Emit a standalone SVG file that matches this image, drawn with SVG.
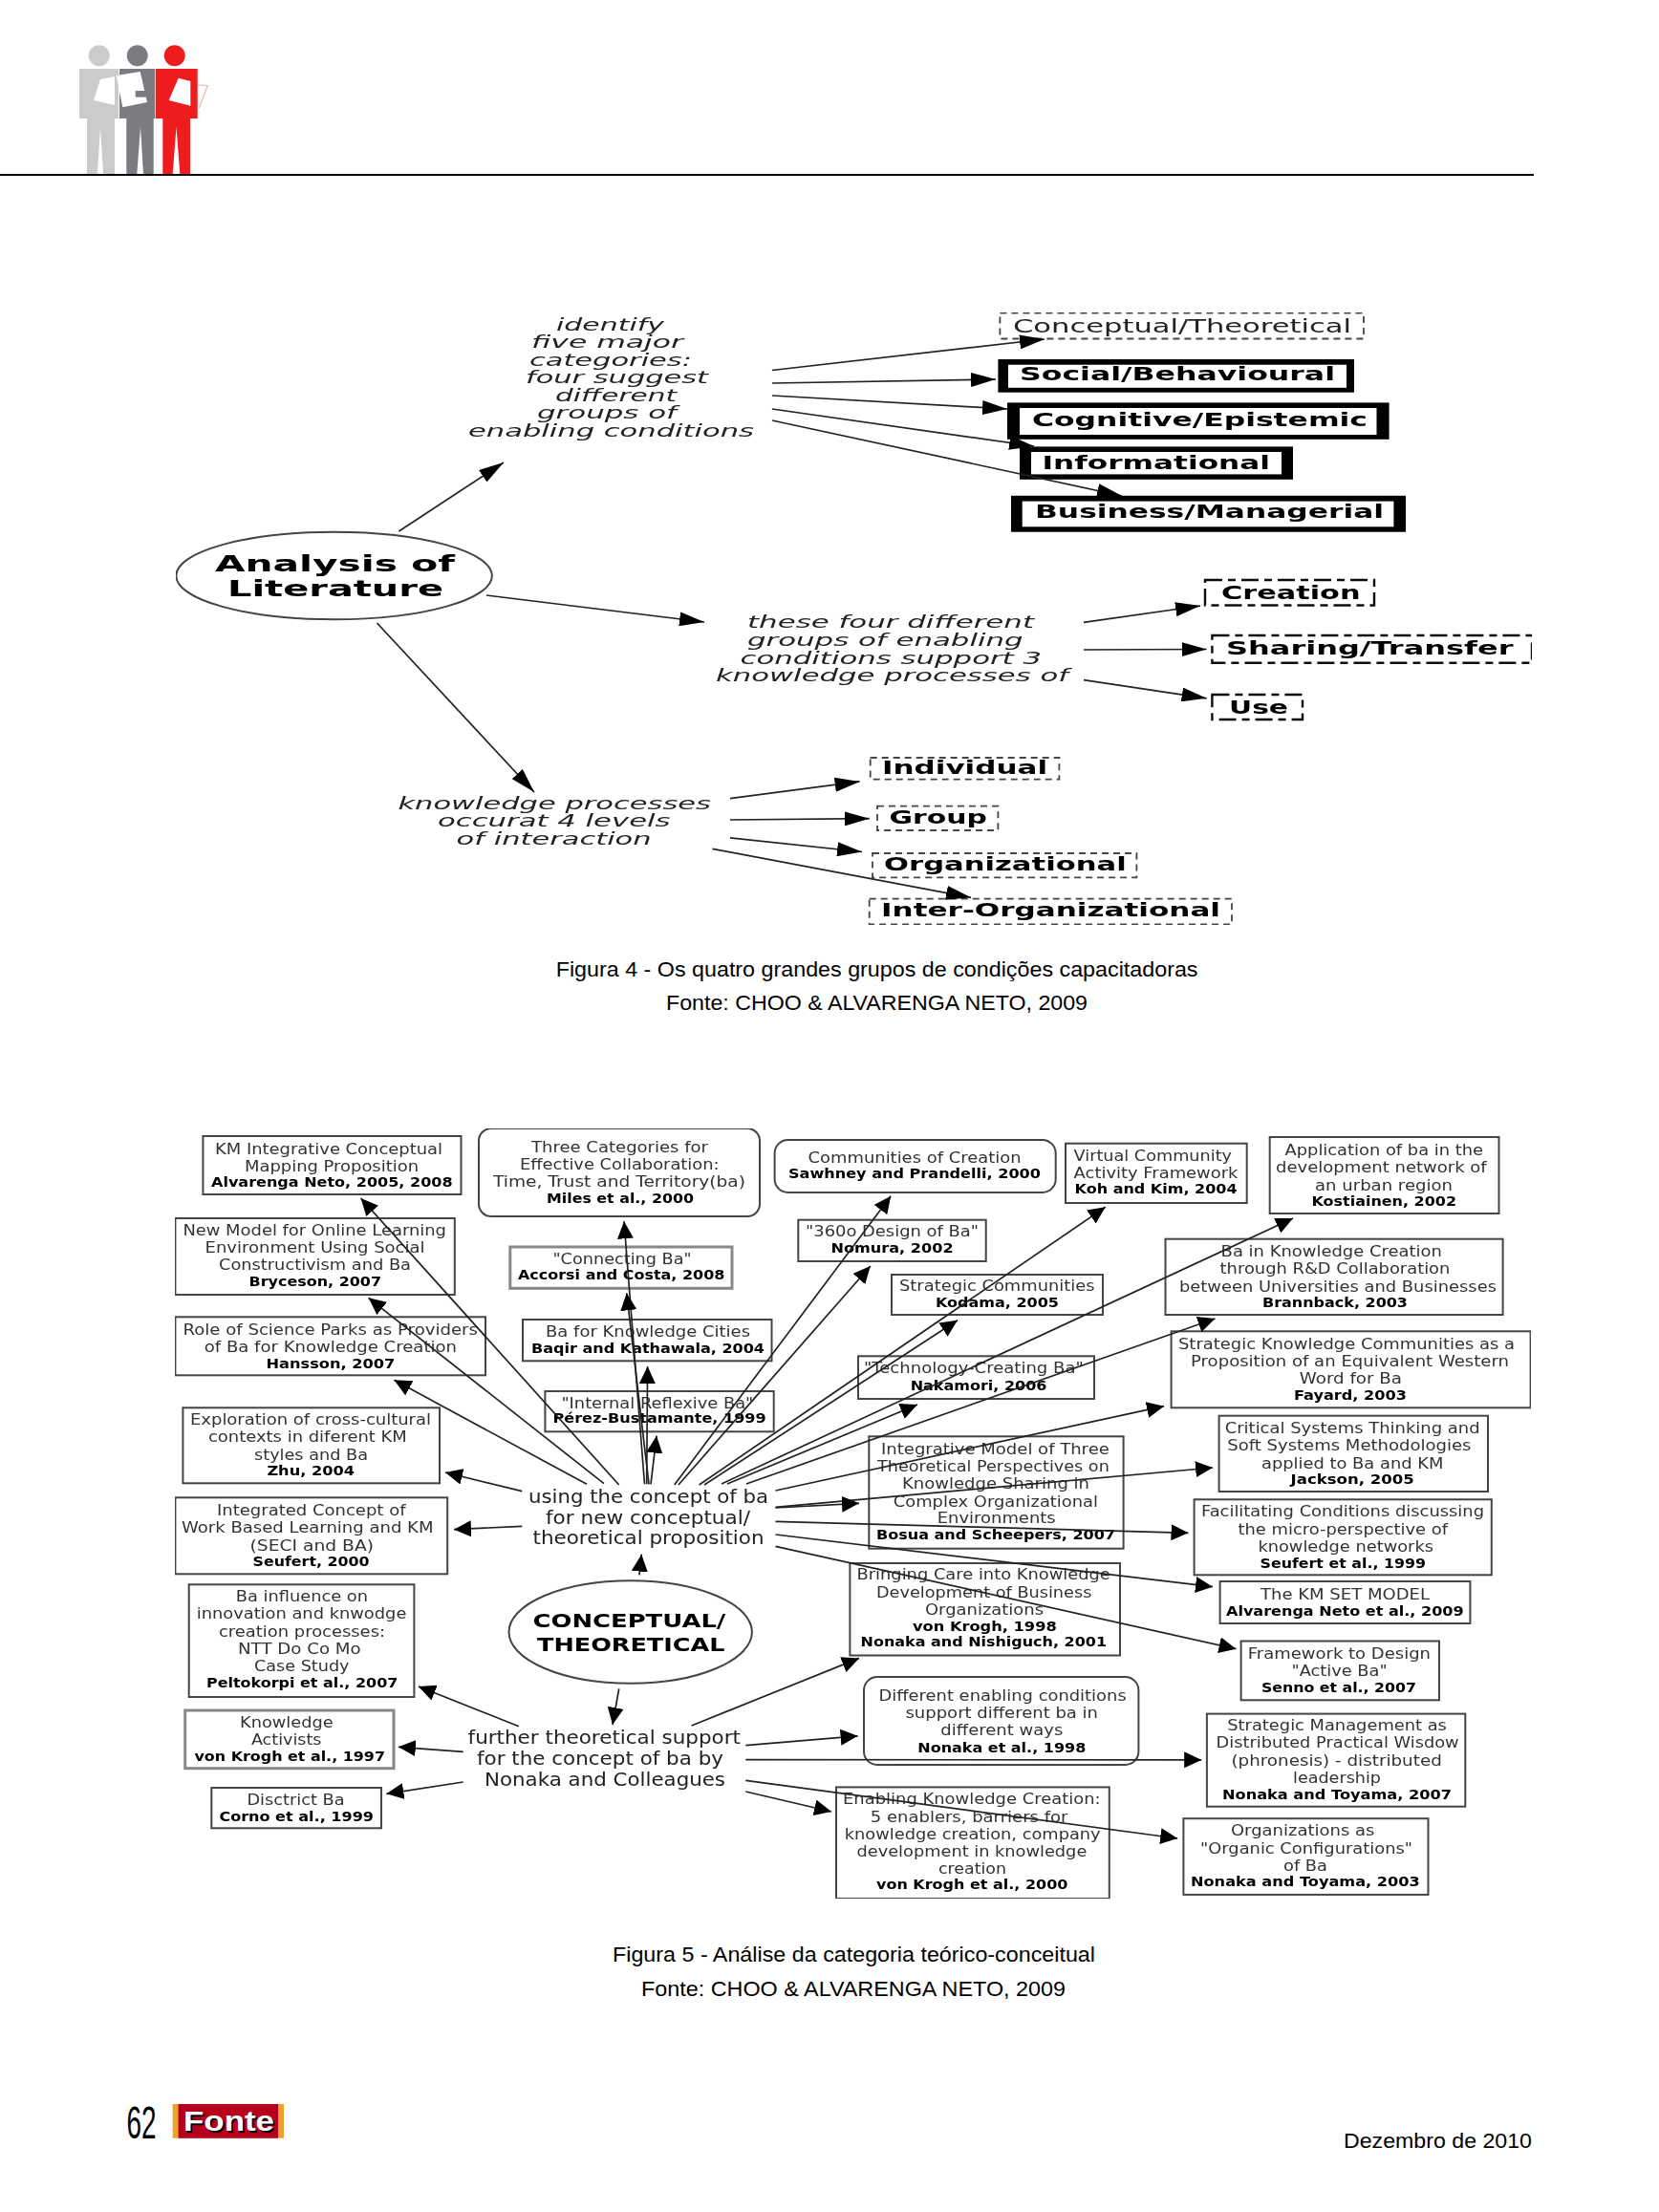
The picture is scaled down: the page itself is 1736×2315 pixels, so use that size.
<svg xmlns="http://www.w3.org/2000/svg" width="1736" height="2315" viewBox="0 0 1736 2315">
<style>
text{font-family:"DejaVu Sans",sans-serif;fill:#333;font-size:16px}
.b{font-weight:bold;fill:#000;font-size:14px}
.cap{font-family:"Liberation Sans",Arial,sans-serif;font-size:22px;fill:#000}
.it{font-style:italic;font-size:18.5px;fill:#222}
.t1{font-weight:bold;font-size:19.5px;fill:#000}
.hub{font-size:19.5px;fill:#222}
.box{fill:#fff;stroke:#444;stroke-width:2}
.lbox{fill:#fff;stroke:#888;stroke-width:3}
.ell{fill:#fff;stroke:#444;stroke-width:2}
.d1{fill:#fff;stroke:#444;stroke-width:1.8;stroke-dasharray:7 5}
.d2{fill:#fff;stroke:#111;stroke-width:2.4;stroke-dasharray:18 6 8 6}
.c4 line{stroke:#222;stroke-width:1.7;marker-end:url(#a4)}
.c5 line{stroke:#222;stroke-width:1.7;marker-end:url(#a5)}
</style>
<defs>
<marker id="a4" markerUnits="userSpaceOnUse" markerWidth="26" markerHeight="15" refX="26" refY="7.5" orient="auto"><path d="M0 0L26 7.5L0 15Z" fill="#000"/></marker>
<marker id="a5" markerUnits="userSpaceOnUse" markerWidth="18" markerHeight="17" refX="18" refY="8.5" orient="auto"><path d="M0 0L18 8.5L0 17Z" fill="#000"/></marker>
<filter id="soft" x="0" y="0" width="100%" height="100%"><feGaussianBlur stdDeviation="0.7"/></filter>
</defs>
<rect width="1736" height="2315" fill="#fff"/>
<g id="header">
<g fill="#cbcbcb"><circle cx="103.7" cy="58.3" r="11"/><path d="M83 72H124V124H120V182H108L105 133L102 182H91V124H83Z"/></g>
<polygon points="98,105 105,83 120,80 120,110" fill="#fff"/>
<g fill="#7a7c80"><circle cx="143.7" cy="58.3" r="11"/><path d="M125 72H162V124H160.7V182H150L147 133L143.3 182H132.3V124H125Z"/></g>
<polygon points="121.7,79 146.7,75 154,107 128.3,112.3" fill="#fff"/>
<rect x="141.7" y="95" width="18.3" height="6.7" fill="#7a7c80"/>
<g fill="#ee1c1c"><circle cx="182.7" cy="58.3" r="11"/><path d="M162.7 72H206.7V124H199V182H188.3L184.5 133L180.7 182H170.3V124H162.7Z"/></g>
<polygon points="176.7,105 186.7,81.7 199.3,85 199.3,110.7" fill="#fff"/>
<polyline points="206.7,89 217.3,89.5 208.3,113" fill="none" stroke="#f2b5a5" stroke-width="1.2"/>
<line x1="0" y1="183" x2="1605" y2="183" stroke="#000" stroke-width="2"/>
</g>
<g id="figure4" filter="url(#soft)">
<g id="n-analysis"><ellipse class="ell" cx="349.6" cy="602.5" rx="165.3" ry="45.8"/>
<text class="t1" style="font-size:23px" x="225" y="598" textLength="251" lengthAdjust="spacingAndGlyphs">Analysis of</text>
<text class="t1" style="font-size:23px" x="238" y="623.6" textLength="226" lengthAdjust="spacingAndGlyphs">Literature</text></g>
<g id="n-identify">
<text class="it" x="582" y="345.5" textLength="113" lengthAdjust="spacingAndGlyphs">identify</text>
<text class="it" x="556" y="363.8" textLength="159" lengthAdjust="spacingAndGlyphs">five major</text>
<text class="it" x="554" y="382.6" textLength="170" lengthAdjust="spacingAndGlyphs">categories:</text>
<text class="it" x="550" y="400.9" textLength="191" lengthAdjust="spacingAndGlyphs">four suggest</text>
<text class="it" x="581" y="419.6" textLength="127" lengthAdjust="spacingAndGlyphs">different</text>
<text class="it" x="562" y="438.4" textLength="146" lengthAdjust="spacingAndGlyphs">groups of</text>
<text class="it" x="490" y="457" textLength="299" lengthAdjust="spacingAndGlyphs">enabling conditions</text></g>
<g id="n-conceptual4"><rect class="d1" x="1046.4" y="327.7" width="380.6" height="26.8"/><text x="1060" y="347.8" style="font-size:20px;fill:#222" textLength="354" lengthAdjust="spacingAndGlyphs">Conceptual/Theoretical</text></g>
<g id="n-social"><rect x="1044.4" y="376" width="372.6" height="34.7" fill="#000"/><rect x="1055" y="381.7" width="354" height="24.1" fill="#fff"/><text class="t1" x="1067" y="398" textLength="330" lengthAdjust="spacingAndGlyphs">Social/Behavioural</text></g>
<g id="n-cognitive"><rect x="1054" y="421.4" width="399.6" height="38.4" fill="#000"/><rect x="1067" y="427" width="373.5" height="28" fill="#fff"/><text class="t1" x="1080" y="446" textLength="351" lengthAdjust="spacingAndGlyphs">Cognitive/Epistemic</text></g>
<g id="n-informational"><rect x="1067" y="467.4" width="286" height="34.4" fill="#000"/><rect x="1079" y="473" width="262" height="23.4" fill="#fff"/><text class="t1" x="1090.5" y="490.6" textLength="238.5" lengthAdjust="spacingAndGlyphs">Informational</text></g>
<g id="n-business"><rect x="1058" y="518.8" width="413" height="37.9" fill="#000"/><rect x="1069.7" y="524.6" width="388.7" height="26.7" fill="#fff"/><text class="t1" x="1083" y="542" textLength="365" lengthAdjust="spacingAndGlyphs">Business/Managerial</text></g>
<g id="n-support">
<text class="it" x="782" y="657" textLength="300" lengthAdjust="spacingAndGlyphs">these four different</text>
<text class="it" x="782" y="676" textLength="288.6" lengthAdjust="spacingAndGlyphs">groups of enabling</text>
<text class="it" x="774.6" y="694.6" textLength="315.4" lengthAdjust="spacingAndGlyphs">conditions support 3</text>
<text class="it" x="749" y="713" textLength="369" lengthAdjust="spacingAndGlyphs">knowledge processes of</text></g>
<g id="n-creation"><rect class="d2" x="1261" y="607" width="177" height="26.5"/><text class="t1" x="1278" y="627" textLength="145.5" lengthAdjust="spacingAndGlyphs">Creation</text></g>
<g id="n-sharing"><rect class="d2" x="1268.4" y="665" width="334.6" height="28.8"/><text class="t1" x="1283" y="684.8" textLength="300.5" lengthAdjust="spacingAndGlyphs">Sharing/Transfer</text></g>
<g id="n-use"><rect class="d2" x="1268.4" y="727" width="94.6" height="26"/><text class="t1" x="1286" y="747.3" textLength="62" lengthAdjust="spacingAndGlyphs">Use</text></g>
<g id="n-levels">
<text class="it" x="416.4" y="847" textLength="327.6" lengthAdjust="spacingAndGlyphs">knowledge processes</text>
<text class="it" x="458" y="865" textLength="243.6" lengthAdjust="spacingAndGlyphs">occurat 4 levels</text>
<text class="it" x="477.6" y="884" textLength="204" lengthAdjust="spacingAndGlyphs">of interaction</text></g>
<g id="n-individual"><rect class="d1" x="910.7" y="793" width="197.7" height="22.6"/><text class="t1" x="923" y="810" textLength="173" lengthAdjust="spacingAndGlyphs">Individual</text></g>
<g id="n-group"><rect class="d1" x="918" y="843.7" width="126.4" height="25.3"/><text class="t1" x="930.5" y="861.6" textLength="102.5" lengthAdjust="spacingAndGlyphs">Group</text></g>
<g id="n-organizational"><rect class="d1" x="913" y="893" width="276.4" height="25.3"/><text class="t1" x="925" y="910.7" textLength="253.7" lengthAdjust="spacingAndGlyphs">Organizational</text></g>
<g id="n-inter"><rect class="d1" x="909.7" y="940.6" width="379.3" height="26.8"/><text class="t1" x="922" y="959.4" textLength="355" lengthAdjust="spacingAndGlyphs">Inter-Organizational</text></g>
<g id="connectors4" class="c4">
<line x1="417.4" y1="556" x2="527" y2="484"/>
<line x1="509" y1="623" x2="737" y2="651"/>
<line x1="394.5" y1="652" x2="559" y2="829"/>
<line x1="808" y1="387.5" x2="1093" y2="355"/>
<line x1="808" y1="401" x2="1042" y2="397"/>
<line x1="808" y1="414" x2="1054" y2="428"/>
<line x1="808" y1="428" x2="1082" y2="467"/>
<line x1="808" y1="440" x2="1174" y2="519"/>
<line x1="1134" y1="651.3" x2="1256" y2="634"/>
<line x1="1134" y1="680" x2="1262.6" y2="679.5"/>
<line x1="1134" y1="711.6" x2="1262.6" y2="730.8"/>
<line x1="764" y1="835.7" x2="899.6" y2="817.9"/>
<line x1="764" y1="858" x2="909.8" y2="856.7"/>
<line x1="764" y1="876.8" x2="902" y2="891.5"/>
<line x1="745.5" y1="888.4" x2="1016" y2="939.3"/>
</g>
</g>
<g id="captions">
<text class="cap" x="581.7" y="1021.7" textLength="671.8" lengthAdjust="spacingAndGlyphs">Figura 4 - Os quatro grandes grupos de condições capacitadoras</text>
<text class="cap" x="697" y="1057" textLength="441" lengthAdjust="spacingAndGlyphs">Fonte: CHOO &amp; ALVARENGA NETO, 2009</text>
<text class="cap" x="641" y="2052.7" textLength="505" lengthAdjust="spacingAndGlyphs">Figura 5 - Análise da categoria teórico-conceitual</text>
<text class="cap" x="671" y="2089" textLength="444" lengthAdjust="spacingAndGlyphs">Fonte: CHOO &amp; ALVARENGA NETO, 2009</text>
</g>
<g id="figure5" filter="url(#soft)">
<g id="n-km"><rect class="box" x="212.4" y="1189" width="270.1" height="61"/><text x="225" y="1207.7" textLength="238" lengthAdjust="spacingAndGlyphs">KM Integrative Conceptual</text><text x="256" y="1225.7" textLength="182" lengthAdjust="spacingAndGlyphs">Mapping Proposition</text><text class="b" x="221" y="1242" textLength="252.6" lengthAdjust="spacingAndGlyphs">Alvarenga Neto, 2005, 2008</text></g>
<g id="n-three"><rect class="box" x="501" y="1181" width="294" height="92" rx="13"/><text x="556" y="1206" textLength="185" lengthAdjust="spacingAndGlyphs">Three Categories for</text><text x="544" y="1224" textLength="208.6" lengthAdjust="spacingAndGlyphs">Effective Collaboration:</text><text x="516" y="1242.3" textLength="264" lengthAdjust="spacingAndGlyphs">Time, Trust and Territory(ba)</text><text class="b" x="572" y="1259" textLength="154" lengthAdjust="spacingAndGlyphs">Miles et al., 2000</text></g>
<g id="n-communities"><rect class="box" x="810.6" y="1193" width="294.1" height="55" rx="14"/><text x="845.5" y="1216.7" textLength="223" lengthAdjust="spacingAndGlyphs">Communities of Creation</text><text class="b" x="825" y="1233" textLength="264" lengthAdjust="spacingAndGlyphs">Sawhney and Prandelli, 2000</text></g>
<g id="n-virtual"><rect class="box" x="1115" y="1196.7" width="189.7" height="62.3"/><text x="1123.6" y="1215" textLength="165.4" lengthAdjust="spacingAndGlyphs">Virtual Community</text><text x="1123.6" y="1233" textLength="171.9" lengthAdjust="spacingAndGlyphs">Activity Framework</text><text class="b" x="1124.6" y="1249.3" textLength="170" lengthAdjust="spacingAndGlyphs">Koh and Kim, 2004</text></g>
<g id="n-application"><rect class="box" x="1328.7" y="1190" width="239.8" height="80"/><text x="1344.5" y="1209" textLength="207.5" lengthAdjust="spacingAndGlyphs">Application of ba in the</text><text x="1335" y="1227.3" textLength="220.7" lengthAdjust="spacingAndGlyphs">development network of</text><text x="1376" y="1245.7" textLength="144" lengthAdjust="spacingAndGlyphs">an urban region</text><text class="b" x="1372.5" y="1262.3" textLength="151.5" lengthAdjust="spacingAndGlyphs">Kostiainen, 2002</text></g>
<g id="n-newmodel"><rect class="box" x="183.4" y="1275" width="292.4" height="80"/><text x="191.4" y="1292.7" textLength="275.6" lengthAdjust="spacingAndGlyphs">New Model for Online Learning</text><text x="214.6" y="1311" textLength="229.9" lengthAdjust="spacingAndGlyphs">Environment Using Social</text><text x="229" y="1329.3" textLength="201" lengthAdjust="spacingAndGlyphs">Constructivism and Ba</text><text class="b" x="260.6" y="1346.3" textLength="138.4" lengthAdjust="spacingAndGlyphs">Bryceson, 2007</text></g>
<g id="n-connecting"><rect class="lbox" x="533.8" y="1305" width="232.2" height="43.3"/><text x="578.5" y="1322.7" textLength="145.1" lengthAdjust="spacingAndGlyphs">"Connecting Ba"</text><text class="b" x="542" y="1339.3" textLength="216.4" lengthAdjust="spacingAndGlyphs">Accorsi and Costa, 2008</text></g>
<g id="n-360"><rect class="box" x="835.3" y="1276.7" width="196.4" height="43.3"/><text x="843" y="1294.3" textLength="181" lengthAdjust="spacingAndGlyphs">"360o Design of Ba"</text><text class="b" x="869.5" y="1311" textLength="128.1" lengthAdjust="spacingAndGlyphs">Nomura, 2002</text></g>
<g id="n-strategic"><rect class="box" x="933" y="1334" width="221" height="42"/><text x="941" y="1351" textLength="204.5" lengthAdjust="spacingAndGlyphs">Strategic Communities</text><text class="b" x="979" y="1368.3" textLength="129" lengthAdjust="spacingAndGlyphs">Kodama, 2005</text></g>
<g id="n-rd"><rect class="box" x="1219.5" y="1296.7" width="353.1" height="79.3"/><text x="1277.6" y="1315" textLength="231.2" lengthAdjust="spacingAndGlyphs">Ba in Knowledge Creation</text><text x="1276.6" y="1333.3" textLength="240.8" lengthAdjust="spacingAndGlyphs">through R&amp;D Collaboration</text><text x="1234" y="1351.7" textLength="332" lengthAdjust="spacingAndGlyphs">between Universities and Businesses</text><text class="b" x="1321" y="1368.3" textLength="152" lengthAdjust="spacingAndGlyphs">Brannback, 2003</text></g>
<g id="n-role"><rect class="box" x="183.4" y="1378.3" width="324.6" height="61"/><text x="191.4" y="1396.7" textLength="308.6" lengthAdjust="spacingAndGlyphs">Role of Science Parks as Providers</text><text x="213.8" y="1415" textLength="264.2" lengthAdjust="spacingAndGlyphs">of Ba for Knowledge Creation</text><text class="b" x="278.5" y="1431.7" textLength="134.8" lengthAdjust="spacingAndGlyphs">Hansson, 2007</text></g>
<g id="n-cities"><rect class="box" x="547" y="1381" width="260.5" height="43.3"/><text x="571" y="1399.3" textLength="214" lengthAdjust="spacingAndGlyphs">Ba for Knowledge Cities</text><text class="b" x="556" y="1416" textLength="244" lengthAdjust="spacingAndGlyphs">Baqir and Kathawala, 2004</text></g>
<g id="n-technology"><rect class="box" x="898" y="1419.3" width="247" height="44.7"/><text x="904" y="1437.3" textLength="229.8" lengthAdjust="spacingAndGlyphs">"Technology-Creating Ba"</text><text class="b" x="952.7" y="1455" textLength="142.8" lengthAdjust="spacingAndGlyphs">Nakamori, 2006</text></g>
<g id="n-western"><rect class="box" x="1225.6" y="1393.3" width="376" height="80"/><text x="1233" y="1411.7" textLength="352" lengthAdjust="spacingAndGlyphs">Strategic Knowledge Communities as a</text><text x="1246" y="1430" textLength="333" lengthAdjust="spacingAndGlyphs">Proposition of an Equivalent Western</text><text x="1359.8" y="1448.3" textLength="107.2" lengthAdjust="spacingAndGlyphs">Word for Ba</text><text class="b" x="1354" y="1465" textLength="118" lengthAdjust="spacingAndGlyphs">Fayard, 2003</text></g>
<g id="n-internal"><rect class="box" x="570.4" y="1456" width="239.3" height="42.3"/><text x="587.4" y="1474" textLength="200.9" lengthAdjust="spacingAndGlyphs">"Internal Reflexive Ba"</text><text class="b" x="578.5" y="1489.3" textLength="223.2" lengthAdjust="spacingAndGlyphs">Pérez-Bustamante, 1999</text></g>
<g id="n-exploration"><rect class="box" x="191.4" y="1473.3" width="268.6" height="79"/><text x="199" y="1491" textLength="252" lengthAdjust="spacingAndGlyphs">Exploration of cross-cultural</text><text x="218" y="1509.3" textLength="207.8" lengthAdjust="spacingAndGlyphs">contexts in diferent KM</text><text x="266" y="1527.7" textLength="119" lengthAdjust="spacingAndGlyphs">styles and Ba</text><text class="b" x="279.4" y="1544.3" textLength="91.6" lengthAdjust="spacingAndGlyphs">Zhu, 2004</text></g>
<g id="n-integrative"><rect class="box" x="909.3" y="1503.3" width="266.3" height="117.4"/><text x="922" y="1521.7" textLength="238.8" lengthAdjust="spacingAndGlyphs">Integrative Model of Three</text><text x="918" y="1540" textLength="242.8" lengthAdjust="spacingAndGlyphs">Theoretical Perspectives on</text><text x="944" y="1558.3" textLength="196" lengthAdjust="spacingAndGlyphs">Knowledge Sharing in</text><text x="934.8" y="1576.7" textLength="214.2" lengthAdjust="spacingAndGlyphs">Complex Organizational</text><text x="980.7" y="1594.3" textLength="124" lengthAdjust="spacingAndGlyphs">Environments</text><text class="b" x="917" y="1610.7" textLength="250" lengthAdjust="spacingAndGlyphs">Bosua and Scheepers, 2007</text></g>
<g id="n-critical"><rect class="box" x="1275.6" y="1481.7" width="281.4" height="79.3"/><text x="1281.7" y="1500" textLength="266.9" lengthAdjust="spacingAndGlyphs">Critical Systems Thinking and</text><text x="1284.3" y="1518.3" textLength="255.1" lengthAdjust="spacingAndGlyphs">Soft Systems Methodologies</text><text x="1320" y="1536.7" textLength="190.3" lengthAdjust="spacingAndGlyphs">applied to Ba and KM</text><text class="b" x="1350.6" y="1553.3" textLength="129.1" lengthAdjust="spacingAndGlyphs">Jackson, 2005</text></g>
<g id="n-integrated"><rect class="box" x="183.4" y="1567.3" width="284.8" height="80"/><text x="227" y="1585.7" textLength="197.5" lengthAdjust="spacingAndGlyphs">Integrated Concept of</text><text x="190" y="1604" textLength="263.5" lengthAdjust="spacingAndGlyphs">Work Based Learning and KM</text><text x="261.5" y="1622.7" textLength="129.5" lengthAdjust="spacingAndGlyphs">(SECI and BA)</text><text class="b" x="264.6" y="1639.3" textLength="121.9" lengthAdjust="spacingAndGlyphs">Seufert, 2000</text></g>
<g id="n-using"><text class="hub" x="553" y="1572.7" textLength="251" lengthAdjust="spacingAndGlyphs">using the concept of ba</text><text class="hub" x="571" y="1595" textLength="214" lengthAdjust="spacingAndGlyphs">for new conceptual/</text><text class="hub" x="557.5" y="1616" textLength="242" lengthAdjust="spacingAndGlyphs">theoretical proposition</text></g>
<g id="n-facilitating"><rect class="box" x="1249.6" y="1569.3" width="311.2" height="79"/><text x="1257" y="1587.3" textLength="296" lengthAdjust="spacingAndGlyphs">Facilitating Conditions discussing</text><text x="1295.5" y="1605.7" textLength="219.5" lengthAdjust="spacingAndGlyphs">the micro-perspective of</text><text x="1316.4" y="1624" textLength="183.6" lengthAdjust="spacingAndGlyphs">knowledge networks</text><text class="b" x="1318.5" y="1640.7" textLength="173.5" lengthAdjust="spacingAndGlyphs">Seufert et al., 1999</text></g>
<g id="n-bringing"><rect class="box" x="889.4" y="1636" width="282.6" height="96.5"/><text x="896.5" y="1653.2" textLength="265.3" lengthAdjust="spacingAndGlyphs">Bringing Care into Knowledge</text><text x="917" y="1671.8" textLength="225.4" lengthAdjust="spacingAndGlyphs">Development of Business</text><text x="968" y="1690" textLength="124" lengthAdjust="spacingAndGlyphs">Organizations</text><text class="b" x="955" y="1706.8" textLength="150.7" lengthAdjust="spacingAndGlyphs">von Krogh, 1998</text><text class="b" x="900.6" y="1722.9" textLength="257.4" lengthAdjust="spacingAndGlyphs">Nonaka and Nishiguch, 2001</text></g>
<g id="n-set"><rect class="box" x="1276.6" y="1655" width="261.8" height="44"/><text x="1319" y="1674" textLength="177" lengthAdjust="spacingAndGlyphs">The KM SET MODEL</text><text class="b" x="1283" y="1691.4" textLength="248.7" lengthAdjust="spacingAndGlyphs">Alvarenga Neto et al., 2009</text></g>
<g id="n-framework"><rect class="box" x="1298.6" y="1717.5" width="207.4" height="61.8"/><text x="1305.7" y="1736.4" textLength="191.3" lengthAdjust="spacingAndGlyphs">Framework to Design</text><text x="1351.6" y="1754.3" textLength="100" lengthAdjust="spacingAndGlyphs">"Active Ba"</text><text class="b" x="1320" y="1771" textLength="162" lengthAdjust="spacingAndGlyphs">Senno et al., 2007</text></g>
<g id="n-different"><rect class="box" x="904" y="1755" width="287.4" height="92" rx="14"/><text x="919.5" y="1780" textLength="259.2" lengthAdjust="spacingAndGlyphs">Different enabling conditions</text><text x="947.5" y="1797.9" textLength="201.5" lengthAdjust="spacingAndGlyphs">support different ba in</text><text x="984.3" y="1816.4" textLength="128" lengthAdjust="spacingAndGlyphs">different ways</text><text class="b" x="960.3" y="1833.6" textLength="176" lengthAdjust="spacingAndGlyphs">Nonaka et al., 1998</text></g>
<g id="n-management"><rect class="box" x="1262.9" y="1793.6" width="270.4" height="97.1"/><text x="1284.3" y="1811.4" textLength="229.6" lengthAdjust="spacingAndGlyphs">Strategic Management as</text><text x="1272.6" y="1829.3" textLength="254" lengthAdjust="spacingAndGlyphs">Distributed Practical Wisdow</text><text x="1288.4" y="1847.9" textLength="220.4" lengthAdjust="spacingAndGlyphs">(phronesis) - distributed</text><text x="1353" y="1865.7" textLength="92" lengthAdjust="spacingAndGlyphs">leadership</text><text class="b" x="1279" y="1882.5" textLength="240" lengthAdjust="spacingAndGlyphs">Nonaka and Toyama, 2007</text></g>
<g id="n-enabling"><rect class="box" x="875" y="1870.4" width="285.8" height="116.6"/><text x="882" y="1888.2" textLength="269.6" lengthAdjust="spacingAndGlyphs">Enabling Knowledge Creation:</text><text x="910.8" y="1906.8" textLength="206.6" lengthAdjust="spacingAndGlyphs">5 enablers, barriers for</text><text x="883.8" y="1924.6" textLength="267.8" lengthAdjust="spacingAndGlyphs">knowledge creation, company</text><text x="896.5" y="1943.2" textLength="240.8" lengthAdjust="spacingAndGlyphs">development in knowledge</text><text x="982" y="1961.4" textLength="71" lengthAdjust="spacingAndGlyphs">creation</text><text class="b" x="917" y="1977" textLength="200.4" lengthAdjust="spacingAndGlyphs">von Krogh et al., 2000</text></g>
<g id="n-organizations"><rect class="box" x="1238.4" y="1903.2" width="256.1" height="79.7"/><text x="1287.9" y="1921" textLength="150.5" lengthAdjust="spacingAndGlyphs">Organizations as</text><text x="1256" y="1939.6" textLength="222" lengthAdjust="spacingAndGlyphs">"Organic Configurations"</text><text x="1343" y="1957.5" textLength="45.9" lengthAdjust="spacingAndGlyphs">of Ba</text><text class="b" x="1246" y="1973.6" textLength="239.8" lengthAdjust="spacingAndGlyphs">Nonaka and Toyama, 2003</text></g>
<g id="n-influence"><rect class="box" x="197.7" y="1658.3" width="235.7" height="117.7"/><text x="246.8" y="1676" textLength="138.2" lengthAdjust="spacingAndGlyphs">Ba influence on</text><text x="205.7" y="1694.3" textLength="219.7" lengthAdjust="spacingAndGlyphs">innovation and knwodge</text><text x="229" y="1712.7" textLength="174" lengthAdjust="spacingAndGlyphs">creation processes:</text><text x="249" y="1731" textLength="128.6" lengthAdjust="spacingAndGlyphs">NTT Do Co Mo</text><text x="266" y="1749.3" textLength="99.5" lengthAdjust="spacingAndGlyphs">Case Study</text><text class="b" x="216" y="1765.7" textLength="200.4" lengthAdjust="spacingAndGlyphs">Peltokorpi et al., 2007</text></g>
<g id="n-theoretical"><ellipse class="ell" cx="659.7" cy="1708" rx="127.2" ry="53.7"/><text class="t1" style="font-size:20px" x="557.5" y="1702.7" textLength="201.8" lengthAdjust="spacingAndGlyphs">CONCEPTUAL/</text><text class="t1" style="font-size:20px" x="562" y="1728.3" textLength="196.4" lengthAdjust="spacingAndGlyphs">THEORETICAL</text></g>
<g id="n-activists"><rect class="lbox" x="193.7" y="1790" width="218.3" height="60.7"/><text x="251" y="1808.3" textLength="97.6" lengthAdjust="spacingAndGlyphs">Knowledge</text><text x="262.9" y="1826" textLength="73.6" lengthAdjust="spacingAndGlyphs">Activists</text><text class="b" x="203.5" y="1843.3" textLength="199.5" lengthAdjust="spacingAndGlyphs">von Krogh et al., 1997</text></g>
<g id="n-district"><rect class="box" x="221.3" y="1871" width="177.7" height="42.3"/><text x="258.4" y="1889" textLength="102.2" lengthAdjust="spacingAndGlyphs">Disctrict Ba</text><text class="b" x="229.4" y="1905.7" textLength="161.6" lengthAdjust="spacingAndGlyphs">Corno et al., 1999</text></g>
<g id="n-further"><text class="hub" x="489.6" y="1825" textLength="285.4" lengthAdjust="spacingAndGlyphs">further theoretical support</text><text class="hub" x="499" y="1847.3" textLength="258" lengthAdjust="spacingAndGlyphs">for the concept of ba by</text><text class="hub" x="507" y="1869" textLength="252" lengthAdjust="spacingAndGlyphs">Nonaka and Colleagues</text></g>
<g id="connectors5" class="c5">
<line x1="647.7" y1="1554" x2="377.6" y2="1254"/>
<line x1="632" y1="1552.7" x2="385.6" y2="1358.3"/>
<line x1="614" y1="1553.3" x2="412.4" y2="1444.3"/>
<line x1="546.3" y1="1560.7" x2="466" y2="1541"/>
<line x1="546.3" y1="1597.3" x2="475" y2="1600.7"/>
<line x1="674.5" y1="1553.3" x2="653" y2="1278.3"/>
<line x1="679" y1="1553.3" x2="655.7" y2="1353.3"/>
<line x1="676.7" y1="1553.3" x2="677.6" y2="1430"/>
<line x1="681" y1="1553.3" x2="687" y2="1502.7"/>
<line x1="705.7" y1="1554" x2="932.2" y2="1251.7"/>
<line x1="710" y1="1554" x2="910.8" y2="1325"/>
<line x1="731.6" y1="1554" x2="1156.7" y2="1263.3"/>
<line x1="737" y1="1554" x2="1002" y2="1381.7"/>
<line x1="755" y1="1553" x2="1353" y2="1275"/>
<line x1="761" y1="1553" x2="960" y2="1470"/>
<line x1="781" y1="1553" x2="1271.5" y2="1380"/>
<line x1="811.5" y1="1560" x2="1218" y2="1471.7"/>
<line x1="811.5" y1="1577.3" x2="1269" y2="1536"/>
<line x1="811.5" y1="1578" x2="899" y2="1573.3"/>
<line x1="811.5" y1="1592.3" x2="1243.5" y2="1604.3"/>
<line x1="811.5" y1="1606" x2="1269" y2="1660.7"/>
<line x1="811.5" y1="1618.3" x2="1293.5" y2="1725.7"/>
<line x1="669" y1="1648.3" x2="671.3" y2="1626.7"/>
<line x1="647.7" y1="1767.3" x2="641" y2="1805"/>
<line x1="542.8" y1="1806.7" x2="437.9" y2="1765"/>
<line x1="484.7" y1="1833.3" x2="416.9" y2="1828.3"/>
<line x1="484.7" y1="1865" x2="404.4" y2="1877.3"/>
<line x1="723.6" y1="1806" x2="899" y2="1735.4"/>
<line x1="780.3" y1="1826.7" x2="897.6" y2="1816.8"/>
<line x1="780.3" y1="1841.7" x2="1257.2" y2="1841.8"/>
<line x1="780.3" y1="1863.3" x2="1232.2" y2="1924"/>
<line x1="780.3" y1="1875" x2="870" y2="1896"/>
</g>
</g>
<g id="footer">
<text class="cap" style="font-size:48px" x="132.6" y="2238" textLength="31" lengthAdjust="spacingAndGlyphs">62</text>
<rect x="180.6" y="2202" width="116.4" height="35.7" fill="#f0a030"/>
<rect x="186.6" y="2202" width="104.4" height="35.7" fill="#b5001e"/>
<text class="cap" style="font-size:30px;font-weight:bold" x="193.5" y="2231.5" textLength="95" lengthAdjust="spacingAndGlyphs">Fonte</text>
<text class="cap" style="font-size:30px;font-weight:bold;fill:#fff" x="192" y="2230" textLength="95" lengthAdjust="spacingAndGlyphs">Fonte</text>
<text class="cap" x="1406" y="2248" textLength="197" lengthAdjust="spacingAndGlyphs">Dezembro de 2010</text>
</g>
</svg>
